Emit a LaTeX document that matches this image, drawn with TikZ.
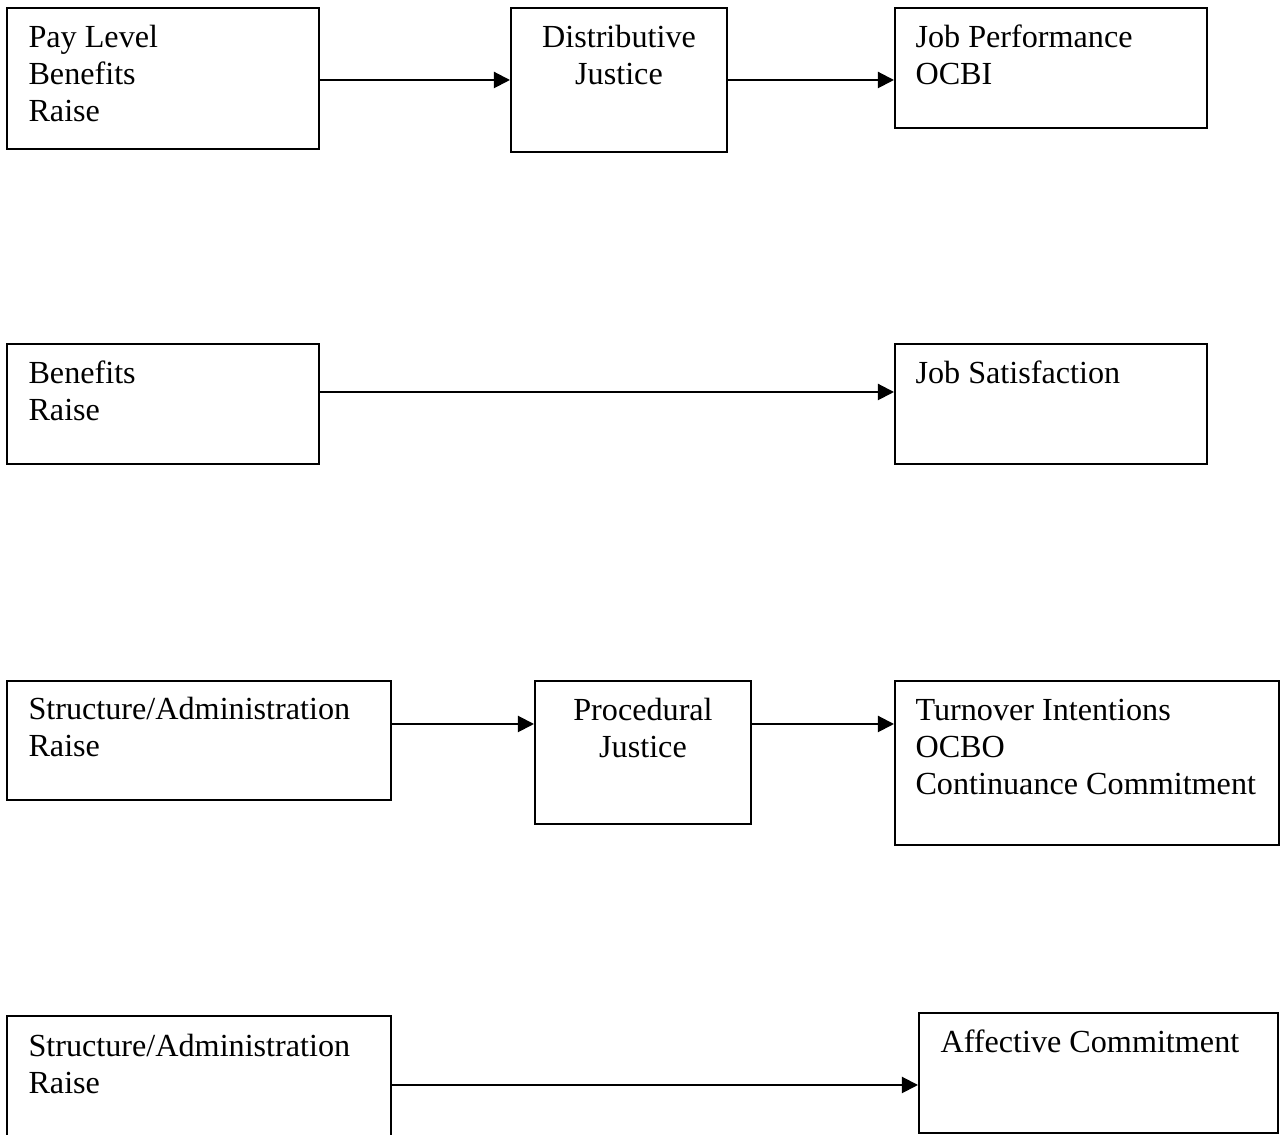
\documentclass[tikz,border=0pt]{standalone}
\usepackage{fontspec}
\setmainfont{Liberation Serif}
\usetikzlibrary{arrows.meta,fit}

\tikzset{
  frame/.style={draw, line width=0.75pt, inner sep=0pt},
  txt/.style={anchor=base west, inner sep=0pt, align=left, font=\fontsize{12}{13.8}\selectfont},
  ctxt/.style={txt, anchor=base, align=center},
  arr/.style={line width=0.75pt, -{Triangle[length=6pt,width=6pt]}}
}

\begin{document}
\begin{tikzpicture}[x=0.373pt,y=-0.373pt]
\useasboundingbox (0,0) rectangle (1285,1135);

% distributive justice
\node[frame, fit={(7,8) (319,149)}] (paybox) {};
\node[frame, fit={(511,8) (727,152)}] (distbox) {};
\node[frame, fit={(895,8) (1207,128)}] (perfbox) {};
\node[txt] (paytxt) at (28,122) {Pay Level\\Benefits\\Raise};
\node[ctxt] (disttxt) at (619,85) {Distributive\\Justice};
\node[txt] (perftxt) at (915,85) {Job Performance\\OCBI};
\draw[arr] (paybox.east |- 0,80) -- (distbox.west |- 0,80);
\draw[arr] (distbox.east |- 0,80) -- (perfbox.west |- 0,80);

% satisfaction
\node[frame, fit={(7,344) (319,464)}] (benbox) {};
\node[frame, fit={(895,344) (1207,464)}] (satbox) {};
\node[txt] (bentxt) at (28,421) {Benefits\\Raise};
\node[txt] (sattxt) at (915,384) {Job Satisfaction};
\draw[arr] (benbox.east |- 0,392) -- (satbox.west |- 0,392);

% procedural justice
\node[frame, fit={(7,681) (391,800)}] (strbox) {};
\node[frame, fit={(535,681) (751,824)}] (procbox) {};
\node[frame, fit={(895,681) (1279,845)}] (turnbox) {};
\node[txt] (strtxt) at (28,757) {Structure/Administration\\Raise};
\node[ctxt] (proctxt) at (643,758) {Procedural\\Justice};
\node[txt] (turntxt) at (915,795) {Turnover Intentions\\OCBO\\Continuance Commitment};
\draw[arr] (strbox.east |- 0,724) -- (procbox.west |- 0,724);
\draw[arr] (procbox.east |- 0,724) -- (turnbox.west |- 0,724);

% affective commitment
\node[frame, fit={(7,1016) (391,1150)}] (admbox) {};
\node[frame, fit={(919,1013) (1278,1133)}] (affbox) {};
\node[txt] (admtxt) at (28,1094) {Structure/Administration\\Raise};
\node[txt] (afftxt) at (940,1053) {Affective Commitment};
\draw[arr] (admbox.east |- 0,1085) -- (affbox.west |- 0,1085);
\end{tikzpicture}
\end{document}
